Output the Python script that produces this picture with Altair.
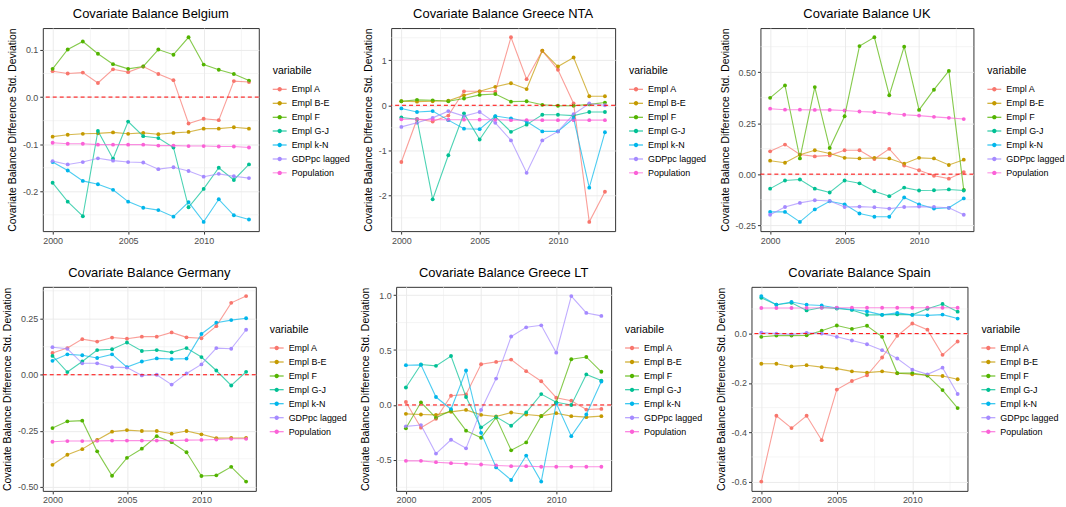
import json
import altair as alt
import pandas as pd

YEARS = list(range(2000, 2014))
SERIES = ["Empl A", "Empl B-E", "Empl F", "Empl G-J", "Empl k-N", "GDPpc lagged", "Population"]
COLORS = ["#F8766D", "#C49A00", "#53B400", "#00C094", "#00B6EB", "#A58AFF", "#FB61D7"]

# ---- Belgium ----
BEL_A = [0.055, 0.050, 0.052, 0.030, 0.059, 0.053, 0.065, 0.049, 0.036, -0.056, -0.046, -0.049, 0.034, 0.032]
BEL_BE = [-0.084, -0.080, -0.078, -0.077, -0.075, -0.078, -0.076, -0.079, -0.076, -0.074, -0.067, -0.067, -0.064, -0.067]
BEL_F = [0.060, 0.101, 0.118, 0.092, 0.070, 0.060, 0.065, 0.101, 0.090, 0.127, 0.069, 0.058, 0.049, 0.035]
BEL_GJ = [-0.182, -0.222, -0.253, -0.072, -0.131, -0.052, -0.083, -0.087, -0.107, -0.234, -0.195, -0.150, -0.176, -0.143]
BEL_KN = [-0.138, -0.156, -0.178, -0.185, -0.197, -0.222, -0.235, -0.240, -0.254, -0.223, -0.265, -0.217, -0.251, -0.260]
BEL_GDP = [-0.136, -0.143, -0.138, -0.130, -0.135, -0.138, -0.139, -0.153, -0.149, -0.157, -0.169, -0.163, -0.168, -0.172]
BEL_POP = [-0.097, -0.099, -0.099, -0.101, -0.101, -0.101, -0.101, -0.103, -0.103, -0.104, -0.104, -0.105, -0.105, -0.107]

# ---- Greece NTA ----
NTA_A = [-1.26, -0.31, -0.36, -0.23, 0.31, 0.31, 0.30, 1.51, 0.58, 1.21, 0.79, 0.04, -2.59, -1.92]
NTA_BE = [0.09, 0.08, 0.09, 0.10, 0.22, 0.31, 0.41, 0.49, 0.36, 1.21, 0.86, 1.06, 0.20, 0.20]
NTA_F = [0.09, 0.12, 0.11, 0.09, 0.15, 0.23, 0.25, 0.08, 0.09, 0.01, -0.01, -0.01, 0.02, 0.06]
NTA_GJ = [-0.27, -0.31, -2.09, -1.11, -0.18, -0.76, -0.25, -0.59, -0.43, -0.21, -0.21, -0.23, -0.15, -0.15]
NTA_KN = [-0.07, -0.15, -0.13, -0.33, -0.52, -0.53, -0.24, -0.29, -0.36, -0.58, -0.58, -0.29, -1.83, -0.60]
NTA_GDP = [-0.48, -0.39, -0.28, -0.13, -0.24, -0.15, -0.39, -0.78, -1.50, -0.78, -0.58, -0.20, 0.04, 0.00]
NTA_POP = [-0.31, -0.31, -0.32, -0.32, -0.32, -0.32, -0.32, -0.33, -0.33, -0.33, -0.33, -0.33, -0.33, -0.33]

# ---- UK ----
UK_A = [0.112, 0.145, 0.096, 0.087, 0.092, 0.117, 0.117, 0.074, 0.124, 0.042, 0.019, -0.008, -0.022, 0.010]
UK_BE = [0.066, 0.056, 0.095, 0.117, 0.101, 0.080, 0.077, 0.080, 0.077, 0.051, 0.080, 0.077, 0.045, 0.071]
UK_F = [0.374, 0.435, 0.077, 0.427, 0.128, 0.284, 0.628, 0.671, 0.387, 0.625, 0.315, 0.414, 0.506, -0.077]
UK_GJ = [-0.071, -0.031, -0.026, -0.071, -0.090, -0.031, -0.045, -0.084, -0.108, -0.066, -0.080, -0.079, -0.075, -0.080]
UK_KN = [-0.185, -0.185, -0.234, -0.173, -0.133, -0.148, -0.193, -0.209, -0.209, -0.114, -0.148, -0.169, -0.165, -0.119]
UK_GDP = [-0.199, -0.161, -0.141, -0.128, -0.132, -0.161, -0.159, -0.162, -0.169, -0.161, -0.159, -0.161, -0.165, -0.199]
UK_POP = [0.321, 0.316, 0.316, 0.315, 0.315, 0.312, 0.307, 0.304, 0.297, 0.291, 0.287, 0.281, 0.276, 0.270]

# ---- Germany ----
DE_A = [0.097, 0.119, 0.159, 0.148, 0.166, 0.161, 0.170, 0.170, 0.189, 0.167, 0.163, 0.217, 0.321, 0.351]
DE_BE = [-0.402, -0.357, -0.332, -0.291, -0.254, -0.247, -0.251, -0.251, -0.263, -0.251, -0.266, -0.283, -0.282, -0.282]
DE_F = [-0.238, -0.208, -0.205, -0.342, -0.451, -0.371, -0.330, -0.274, -0.301, -0.346, -0.452, -0.449, -0.411, -0.477]
DE_GJ = [0.084, 0.012, 0.059, 0.110, 0.114, 0.144, 0.106, 0.110, 0.100, 0.119, 0.079, 0.019, -0.048, 0.013]
DE_KN = [0.062, 0.091, 0.087, 0.075, 0.091, 0.034, 0.059, 0.073, 0.070, 0.072, 0.182, 0.232, 0.244, 0.252]
DE_GDP = [0.123, 0.116, 0.051, 0.051, 0.034, 0.032, -0.003, 0.000, -0.044, 0.006, 0.046, 0.119, 0.116, 0.201]
DE_POP = [-0.299, -0.296, -0.296, -0.295, -0.294, -0.294, -0.294, -0.294, -0.294, -0.292, -0.291, -0.289, -0.286, -0.286]

# ---- Greece LT ----
LT_A = [0.027, -0.207, -0.126, 0.084, 0.096, 0.371, 0.392, 0.413, 0.308, 0.216, 0.066, 0.039, -0.042, -0.036]
LT_BE = [-0.081, -0.087, -0.090, -0.063, -0.045, -0.090, -0.105, -0.069, -0.087, -0.099, -0.075, -0.102, -0.111, -0.102]
LT_F = [-0.213, 0.024, -0.117, -0.051, -0.234, -0.299, -0.114, -0.413, -0.341, -0.102, 0.024, 0.416, 0.437, 0.302]
LT_GJ = [0.159, 0.368, 0.356, 0.446, 0.072, -0.204, -0.108, -0.189, -0.069, 0.099, 0.024, 0.000, 0.278, 0.222]
LT_KN = [0.362, 0.365, 0.072, -0.039, 0.314, -0.254, -0.569, -0.683, -0.461, -0.698, 0.015, -0.284, -0.087, 0.213]
LT_GDP = [-0.195, -0.183, -0.443, -0.317, -0.395, -0.045, 0.240, 0.623, 0.707, 0.725, 0.476, 0.991, 0.838, 0.811]
LT_POP = [-0.509, -0.509, -0.521, -0.530, -0.536, -0.542, -0.551, -0.557, -0.557, -0.563, -0.563, -0.563, -0.563, -0.563]

# ---- Spain ----
ES_A = [-0.600, -0.333, -0.383, -0.333, -0.432, -0.227, -0.192, -0.169, -0.097, -0.009, 0.041, 0.016, -0.086, -0.032]
ES_BE = [-0.122, -0.122, -0.133, -0.128, -0.136, -0.142, -0.153, -0.158, -0.153, -0.161, -0.165, -0.169, -0.172, -0.185]
ES_F = [-0.013, -0.008, -0.008, -0.007, 0.012, 0.033, 0.019, 0.032, -0.013, -0.160, -0.160, -0.170, -0.229, -0.302]
ES_GJ = [0.145, 0.117, 0.125, 0.094, 0.106, 0.102, 0.096, 0.076, 0.076, 0.078, 0.076, 0.101, 0.120, 0.089]
ES_KN = [0.152, 0.117, 0.128, 0.117, 0.114, 0.104, 0.098, 0.090, 0.076, 0.084, 0.076, 0.074, 0.077, 0.061]
ES_GDP = [0.004, 0.000, -0.003, 0.003, 0.000, -0.013, -0.028, -0.043, -0.067, -0.101, -0.146, -0.165, -0.138, -0.245]
ES_POP = [0.104, 0.104, 0.104, 0.104, 0.105, 0.105, 0.105, 0.105, 0.105, 0.105, 0.105, 0.105, 0.105, 0.105]

# y-axis tick labels (major breaks) and formats per panel
BEL_TICKS = [-0.2, -0.1, 0.0, 0.1]
NTA_TICKS = [-2, -1, 0, 1]
UK_TICKS = [-0.25, 0.0, 0.25, 0.5]
DE_TICKS = [-0.5, -0.25, 0.0, 0.25]
LT_TICKS = [-0.5, 0.0, 0.5, 1.0]
ES_TICKS = [-0.6, -0.4, -0.2, 0.0]
X_TICKS = [2000, 2005, 2010]

FONT = "Liberation Sans"
LEGEND_PATH = ("M-1,-0.07L1,-0.07L1,0.07L-1,0.07Z "
               "M0.32,0A0.32,0.32 0 1,1 -0.32,0A0.32,0.32 0 1,1 0.32,0Z")
Y_TITLE = "Covariate Balance Difference Std. Deviation"


def make_panel(title, series_values, major, fmt, width, height):
    rows = []
    for name, vals in zip(SERIES, series_values):
        for yr, v in zip(YEARS, vals):
            rows.append({"year": yr, "variabile": name, "value": v})
    df = pd.DataFrame(rows)
    lo, hi = float(df["value"].min()), float(df["value"].max())
    pad = 0.05 * (hi - lo)
    ydom = [lo - pad, hi + pad]
    xdom = [YEARS[0] - 0.05 * (YEARS[-1] - YEARS[0]), YEARS[-1] + 0.05 * (YEARS[-1] - YEARS[0])]

    # minor gridlines halfway between the breaks (ggplot theme_bw look)
    ystep = major[1] - major[0]
    yminor = [round(m + ystep / 2, 6) for m in [major[0] - ystep] + major]
    yminor = [m for m in yminor if ydom[0] <= m <= ydom[1]]
    xstep = X_TICKS[1] - X_TICKS[0]
    xminor = [t + xstep / 2 for t in X_TICKS]
    xminor = [m for m in xminor if xdom[0] <= m <= xdom[1]]

    xscale = alt.Scale(domain=xdom, nice=False, zero=False)
    yscale = alt.Scale(domain=ydom, nice=False, zero=False)

    yaxis = alt.Axis(
        values=major,
        labelExpr=f"replace(format(datum.value, '{fmt}'), '\u2212', '-')",
        labelOverlap=False, labelFlush=False, title=Y_TITLE,
    )
    xaxis = alt.Axis(values=X_TICKS, format="d", labelOverlap=False, labelFlush=False, title=None)

    x = alt.X("year:Q", scale=xscale, axis=xaxis)
    y = alt.Y("value:Q", scale=yscale, axis=yaxis)
    cscale = alt.Scale(domain=SERIES, range=COLORS)
    legend = alt.Legend(
        title="variabile", orient="none", legendX=width + 14, legendY=38,
        symbolType=LEGEND_PATH, symbolSize=196, symbolOpacity=1, symbolStrokeWidth=0,
        labelFontSize=9, titleFontSize=10.5, titleFontWeight="normal",
        labelColor="black", titleColor="black", labelFont=FONT, titleFont=FONT,
        rowPadding=2, labelOffset=5, titlePadding=6,
    )
    color = alt.Color("variabile:N", scale=cscale, legend=legend)

    ygrid = alt.Chart(pd.DataFrame({"m": yminor})).mark_rule(
        color="#EBEBEB", strokeWidth=0.5).encode(y=alt.Y("m:Q", scale=yscale, axis=yaxis))
    xgrid = alt.Chart(pd.DataFrame({"m": xminor})).mark_rule(
        color="#EBEBEB", strokeWidth=0.5).encode(x=alt.X("m:Q", scale=xscale, axis=xaxis))

    base = alt.Chart(df)
    pts = base.mark_point(filled=True, size=15, opacity=1).encode(x=x, y=y, color=color)
    line = base.mark_line(strokeWidth=1.1, opacity=0.7).encode(x=x, y=y, color=color)
    rule = alt.Chart(pd.DataFrame({"ref": [0.0]})).mark_rule(
        color="#FF0000", strokeDash=[4, 3], strokeWidth=1).encode(y=alt.datum(0))
    return alt.layer(ygrid, xgrid, pts, line, rule).properties(
        width=width, height=height,
        title=alt.TitleParams(title, fontSize=13, fontWeight="normal", anchor="middle",
                              offset=7, font=FONT, color="black"),
    )


p_bel = make_panel("Covariate Balance Belgium",
                   [BEL_A, BEL_BE, BEL_F, BEL_GJ, BEL_KN, BEL_GDP, BEL_POP], BEL_TICKS, ".1f", 217, 204)
p_nta = make_panel("Covariate Balance Greece NTA",
                   [NTA_A, NTA_BE, NTA_F, NTA_GJ, NTA_KN, NTA_GDP, NTA_POP], NTA_TICKS, "d", 225, 204)
p_uk = make_panel("Covariate Balance UK",
                  [UK_A, UK_BE, UK_F, UK_GJ, UK_KN, UK_GDP, UK_POP], UK_TICKS, ".2f", 214, 204)
p_de = make_panel("Covariate Balance Germany",
                  [DE_A, DE_BE, DE_F, DE_GJ, DE_KN, DE_GDP, DE_POP], DE_TICKS, ".2f", 214, 205)
p_lt = make_panel("Covariate Balance Greece LT",
                  [LT_A, LT_BE, LT_F, LT_GJ, LT_KN, LT_GDP, LT_POP], LT_TICKS, ".1f", 216, 205)
p_es = make_panel("Covariate Balance Spain",
                  [ES_A, ES_BE, ES_F, ES_GJ, ES_KN, ES_GDP, ES_POP], ES_TICKS, ".1f", 217, 205)


def res(c):
    return c.resolve_scale(y="independent", color="independent").resolve_legend(color="independent")


row1 = res(alt.hconcat(p_bel, p_nta, p_uk, spacing=11))
row2 = res(alt.hconcat(p_de, p_lt, p_es, spacing=11))
chart = res(alt.vconcat(row1, row2, spacing=20)).properties(
    padding={"left": 1, "top": 6, "right": 0, "bottom": 0},
    background="white",
).configure_view(
    stroke="#333333", strokeWidth=1
).configure_axis(
    gridColor="#EBEBEB", gridWidth=1, domain=False, tickColor="#333333", tickSize=3,
    labelColor="#4D4D4D", labelFontSize=9, labelFont=FONT,
    titleFont=FONT, titleFontSize=10.5, titleFontWeight="normal", titleColor="black",
    labelPadding=2, titlePadding=5,
)

chart.save("out.html", embed_options={"renderer": "svg", "actions": False})
